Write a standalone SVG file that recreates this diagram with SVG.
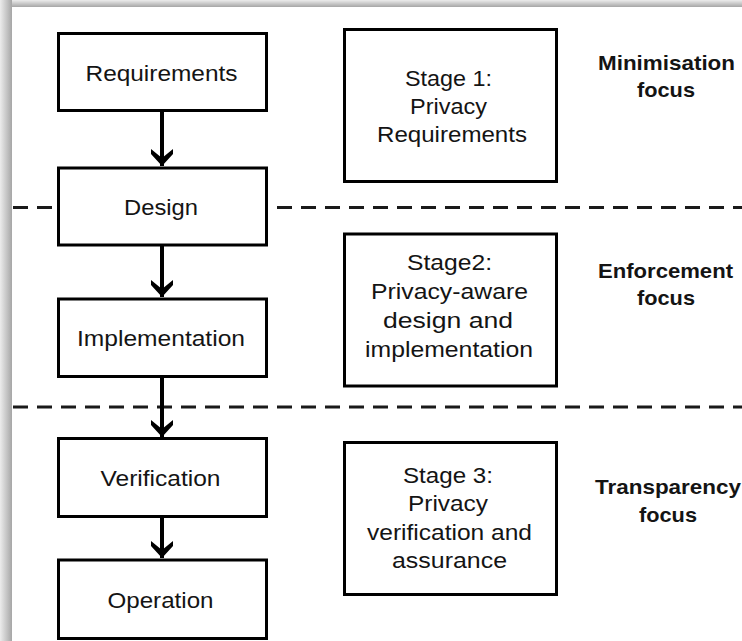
<svg xmlns="http://www.w3.org/2000/svg" width="742" height="641" viewBox="0 0 742 641">
  <style>
    .box { fill: #ffffff; stroke: #000000; stroke-width: 3; }
    .lbl { font-family: "Liberation Sans", Arial, sans-serif; font-size: 22px; fill: #141414; text-anchor: middle; }
    .focus { font-family: "Liberation Sans", Arial, sans-serif; font-size: 21px; font-weight: bold; fill: #141414; text-anchor: middle; }
    .sep { fill: none; stroke: #1a1a1a; stroke-width: 3; stroke-dasharray: 15 9; }
    .flow { fill: none; stroke: #000000; stroke-width: 4; }
  </style>
  <defs>
    <linearGradient id="gl" x1="0" y1="0" x2="1" y2="0">
      <stop offset="0" stop-color="#ececec"/>
      <stop offset="1" stop-color="#a6a6a6"/>
    </linearGradient>
    <linearGradient id="gt" x1="0" y1="0" x2="0" y2="1">
      <stop offset="0" stop-color="#ececec"/>
      <stop offset="1" stop-color="#a6a6a6"/>
    </linearGradient>
    <marker id="arr" viewBox="0 0 18 22" refX="17" refY="11" markerWidth="18" markerHeight="22" markerUnits="userSpaceOnUse" orient="auto">
      <polygon points="0,0 5,0 17,11 5,22 0,22 9,11" fill="#000000"/>
    </marker>
  </defs>

  <rect x="0" y="0" width="742" height="641" fill="#ffffff"/>
  <rect x="0" y="0" width="742" height="7" fill="url(#gt)"/>
  <rect x="0" y="0" width="12" height="641" fill="url(#gl)"/>

  <g id="separators">
    <line class="sep" x1="13" y1="207.5" x2="742" y2="207.5"/>
    <line class="sep" x1="13" y1="407" x2="742" y2="407"/>
  </g>

  <g id="connectors">
    <line class="flow" x1="162" y1="111" x2="162" y2="166" marker-end="url(#arr)"/>
    <line class="flow" x1="162" y1="246" x2="162" y2="297" marker-end="url(#arr)"/>
    <line class="flow" x1="162" y1="378" x2="162" y2="437" marker-end="url(#arr)"/>
    <line class="flow" x1="162" y1="518" x2="162" y2="558" marker-end="url(#arr)"/>
  </g>

  <g id="requirements">
    <rect class="box" x="58.5" y="33.5" width="208" height="77"/>
    <text class="lbl" x="161.5" y="80.5" textLength="152" lengthAdjust="spacingAndGlyphs">Requirements</text>
  </g>
  <g id="design">
    <rect class="box" x="58.5" y="168" width="208" height="77"/>
    <text class="lbl" x="161" y="214.5" textLength="74" lengthAdjust="spacingAndGlyphs">Design</text>
  </g>
  <g id="implementation">
    <rect class="box" x="58.5" y="299" width="208" height="77.5"/>
    <text class="lbl" x="161" y="345.5" textLength="168" lengthAdjust="spacingAndGlyphs">Implementation</text>
  </g>
  <g id="verification">
    <rect class="box" x="58.5" y="438.5" width="208" height="78"/>
    <text class="lbl" x="160.5" y="485.5" textLength="120" lengthAdjust="spacingAndGlyphs">Verification</text>
  </g>
  <g id="operation">
    <rect class="box" x="58.5" y="560" width="208" height="78.5"/>
    <text class="lbl" x="160.5" y="607.5" textLength="106" lengthAdjust="spacingAndGlyphs">Operation</text>
  </g>

  <g id="stage1">
    <rect class="box" x="344.5" y="29.5" width="212" height="152"/>
    <text class="lbl" x="448.5" y="85.5" textLength="87" lengthAdjust="spacingAndGlyphs">Stage 1:</text>
    <text class="lbl" x="448.5" y="113.5" textLength="77" lengthAdjust="spacingAndGlyphs">Privacy</text>
    <text class="lbl" x="452" y="142" textLength="150" lengthAdjust="spacingAndGlyphs">Requirements</text>
  </g>
  <g id="stage2">
    <rect class="box" x="344.5" y="234" width="212" height="152"/>
    <text class="lbl" x="449.5" y="270" textLength="85" lengthAdjust="spacingAndGlyphs">Stage2:</text>
    <text class="lbl" x="449.5" y="299" textLength="157" lengthAdjust="spacingAndGlyphs">Privacy-aware</text>
    <text class="lbl" x="448" y="328" textLength="130" lengthAdjust="spacingAndGlyphs">design and</text>
    <text class="lbl" x="449" y="357" textLength="168" lengthAdjust="spacingAndGlyphs">implementation</text>
  </g>
  <g id="stage3">
    <rect class="box" x="344.5" y="442.5" width="212" height="152"/>
    <text class="lbl" x="448" y="483" textLength="90" lengthAdjust="spacingAndGlyphs">Stage 3:</text>
    <text class="lbl" x="448" y="511" textLength="80" lengthAdjust="spacingAndGlyphs">Privacy</text>
    <text class="lbl" x="449.5" y="540" textLength="165" lengthAdjust="spacingAndGlyphs">verification and</text>
    <text class="lbl" x="449.5" y="568" textLength="115" lengthAdjust="spacingAndGlyphs">assurance</text>
  </g>

  <g id="minimisation">
    <text class="focus" x="666.5" y="70" textLength="137" lengthAdjust="spacingAndGlyphs">Minimisation</text>
    <text class="focus" x="666" y="97" textLength="58" lengthAdjust="spacingAndGlyphs">focus</text>
  </g>
  <g id="enforcement">
    <text class="focus" x="665.5" y="278" textLength="135" lengthAdjust="spacingAndGlyphs">Enforcement</text>
    <text class="focus" x="666" y="305" textLength="58" lengthAdjust="spacingAndGlyphs">focus</text>
  </g>
  <g id="transparency">
    <text class="focus" x="668" y="494" textLength="146" lengthAdjust="spacingAndGlyphs">Transparency</text>
    <text class="focus" x="668" y="522" textLength="58" lengthAdjust="spacingAndGlyphs">focus</text>
  </g>
</svg>
